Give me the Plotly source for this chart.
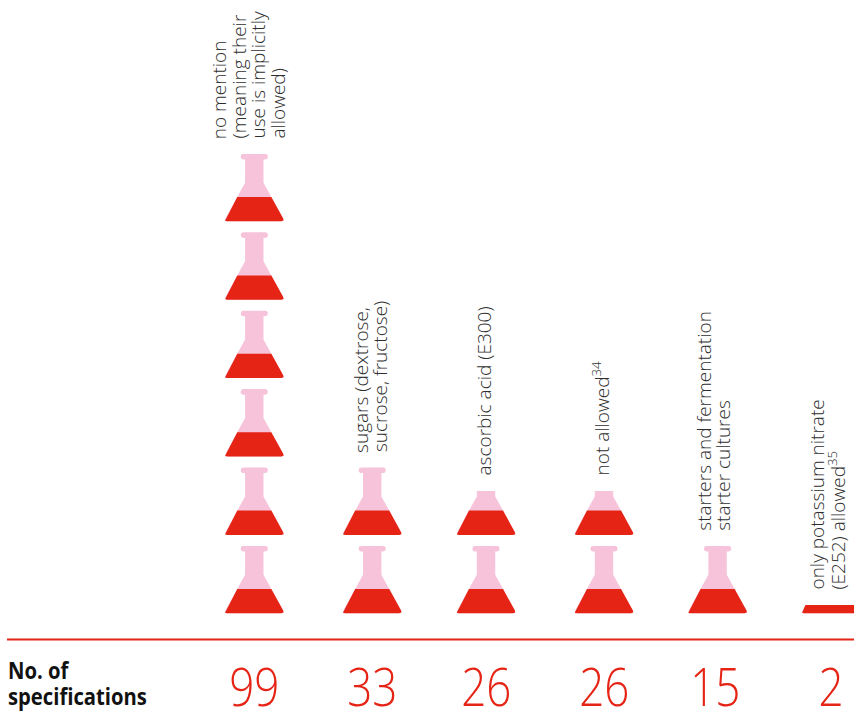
import math
import plotly.graph_objects as go

categories = [
    "no mention<br>(meaning their<br>use is implicitly<br>allowed)",
    "sugars (dextrose,<br>sucrose, fructose)",
    "ascorbic acid (E300)",
    "not allowed<sup>34</sup>",
    "starters and fermentation<br>starter cultures",
    "only potassium nitrate<br>(E252) allowed<sup>35</sup>",
]
spec_counts = [99, 33, 26, 26, 15, 2]
row_title = ["No. of", "specifications"]

# layout constants
specs_per_flask = 16.5
px_per_flask = 78.4
column_x = [254.3, 372.2, 486.0, 604.0, 717.6, 831.3]
label_nudge = [-6, -2, -2, -3, -4, -5]
value_nudge = [0, 0, 0, 0, -2, 0]
W, H = 854, 711
ZERO_PX = 614.5
U = specs_per_flask / px_per_flask
RED, PINK, INK = "#e62415", "#f6c3da", "#2e2e2e"
SANS = "Open Sans"
VALUE_SIZE, TITLE_SIZE = 53, 23.4


def rounded(points, radii, steps=8):
    out = []
    n = len(points)
    for i, (p, r) in enumerate(zip(points, radii)):
        if r == 0:
            out.append(p)
            continue
        a, b = points[i - 1], points[(i + 1) % n]
        da, db = math.dist(p, a), math.dist(p, b)
        s = (p[0] + (a[0] - p[0]) * r / da, p[1] + (a[1] - p[1]) * r / da)
        e = (p[0] + (b[0] - p[0]) * r / db, p[1] + (b[1] - p[1]) * r / db)
        for k in range(steps + 1):
            t = k / steps
            out.append(((1 - t) ** 2 * s[0] + 2 * t * (1 - t) * p[0] + t * t * e[0],
                        (1 - t) ** 2 * s[1] + 2 * t * (1 - t) * p[1] + t * t * e[1]))
    return out


# flask outline: half-width px, height px above the bottom of the glass
outline = [(-30.4, 0), (30.4, 0), (9.2, 38.5), (9.2, 61.8), (13.6, 61.8), (13.6, 67.4),
           (-13.6, 67.4), (-13.6, 61.8), (-9.2, 61.8), (-9.2, 38.5)]
corner = [3.4, 3.4, 0, 0, 2.8, 2.8, 2.8, 2.8, 0, 0]
flask = rounded(outline, corner)
GLASS_LIFT = 1.2
LIQUID_PX = 24.3


def clip_below(poly, limit):
    out = []
    for i, p in enumerate(poly):
        q = poly[i - 1]
        if (p[1] <= limit) != (q[1] <= limit):
            t = (limit - q[1]) / (p[1] - q[1])
            out.append((q[0] + t * (p[0] - q[0]), limit))
        if p[1] <= limit:
            out.append(p)
    return out


fig = go.Figure()
annos = []
tops = []
for cx, count in zip(column_x, spec_counts):
    pink_x, pink_y, red_x, red_y = [], [], [], []
    top = 0
    cell = 0
    while cell * specs_per_flask < count:
        base = cell * specs_per_flask
        shape = [(x, base + (h + GLASS_LIFT) * U) for x, h in flask]
        level = min(count, base + (LIQUID_PX + GLASS_LIFT) * U)
        vis = clip_below(shape, count)
        liq = clip_below(shape, level)
        for poly, xs, ys in ((vis, pink_x, pink_y), (liq, red_x, red_y)):
            if poly:
                xs += [cx + p[0] for p in poly] + [cx + poly[0][0], None]
                ys += [p[1] for p in poly] + [poly[0][1], None]
        top = max(top, max(p[1] for p in vis))
        cell += 1
    tops.append(top)
    for xs, ys, col in ((pink_x, pink_y, PINK), (red_x, red_y, RED)):
        fig.add_trace(go.Scatter(x=xs, y=ys, mode="lines", fill="toself", fillcolor=col,
                                 line=dict(width=0, color=col), hoverinfo="skip", showlegend=False))

LINE_PITCH = 19.6
for cx, nudge, label, top in zip(column_x, label_nudge, categories, tops):
    lines = label.split("<br>")
    for k, line in enumerate(lines):
        annos.append(dict(x=cx, y=top, xref="x", yref="y", text=line, showarrow=False,
                          textangle=-90, xanchor="center", yanchor="bottom",
                          xshift=nudge + (k - (len(lines) - 1) / 2) * LINE_PITCH, yshift=13,
                          font=dict(family=SANS, size=19, color=INK, weight=300)))

VALUE_Y = -(685.5 - ZERO_PX) * U
for cx, nudge, count in zip(column_x, value_nudge, spec_counts):
    annos.append(dict(x=cx, y=VALUE_Y, xref="x", yref="y", text=str(count), showarrow=False,
                      xanchor="center", yanchor="middle", xshift=nudge,
                      font=dict(family=SANS, size=VALUE_SIZE, color=RED, weight=300)))

for k, line in enumerate(row_title):
    annos.append(dict(x=7, y=-(670 + 26 * k - ZERO_PX) * U, xref="x", yref="y", text=line,
                      showarrow=False, xanchor="left", yanchor="middle", borderpad=0,
                      font=dict(family=SANS, size=TITLE_SIZE, color="#111111", weight=700)))

rule_y = -(639.5 - ZERO_PX) * U
fig.add_shape(type="line", x0=7, x1=W, y0=rule_y, y1=rule_y, xref="x", yref="y",
              line=dict(color=RED, width=1.8))

fig.update_layout(
    width=W, height=H, margin=dict(l=0, r=0, t=0, b=0), autosize=False,
    paper_bgcolor="white", plot_bgcolor="white", annotations=annos,
    xaxis=dict(range=[0, W], visible=False, fixedrange=True),
    yaxis=dict(range=[-(H - ZERO_PX) * U, ZERO_PX * U], visible=False, fixedrange=True),
)

# The installed faces have no condensed width, so narrow the large texts in the SVG.
post = """
document.body.style.margin = '0';
document.querySelectorAll('.annotation-text').forEach(function (t) {
  var size = parseFloat(t.style.fontSize);
  var f = size > 40 ? 0.83 : (size > 20 ? 0.865 : 0);
  if (!f) return;
  var w = t.getComputedTextLength();
  var left = size > 40 ? 0 : w * (1 - f) / 2;
  t.setAttribute('textLength', w * f);
  t.setAttribute('lengthAdjust', 'spacingAndGlyphs');
  if (left) t.setAttribute('x', parseFloat(t.getAttribute('x')) - left);
});
"""
fig.write_html("out.html", config=dict(displayModeBar=False), post_script=post)
